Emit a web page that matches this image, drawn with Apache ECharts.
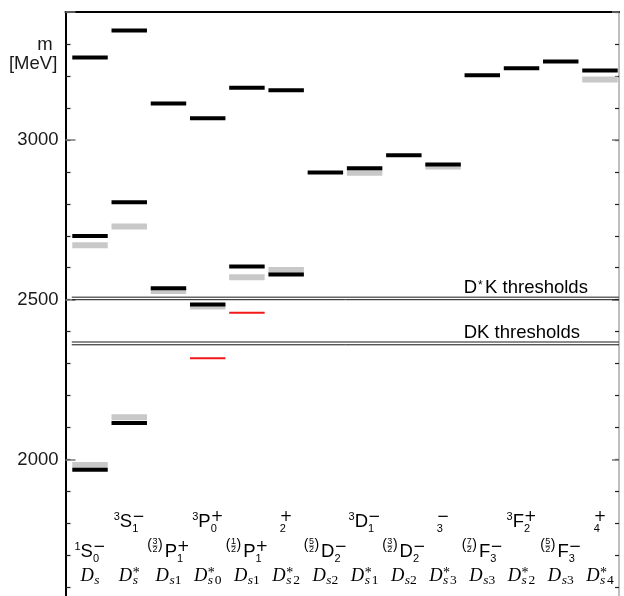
<!DOCTYPE html>
<html>
<head>
<meta charset="utf-8">
<script src="https://cdn.jsdelivr.net/npm/echarts@6/dist/echarts.min.js"></script>
<style>
  html, body { margin: 0; padding: 0; background: #fff; width: 624px; height: 596px; overflow: hidden; }
  #chart { width: 624px; height: 640px; }
</style>
</head>
<body>
<div id="chart"></div>
<script>
// masses in MeV, one list per column
const columns = ['Ds', 'Ds*', 'Ds1', 'Ds0*', 'Ds1', 'Ds2*', 'Ds2', 'Ds1*', 'Ds2', 'Ds3*', 'Ds3', 'Ds2*', 'Ds3', 'Ds4*']
const blackLevels = [[1968, 2699, 3258], [2114, 2805, 3342], [2536, 3114], [2485, 3068], [2604, 3163], [2579, 3155], [2898], [2911], [2952], [2923], [3202], [3224], [3245], [3217]]
const grayLevels = [[1983, 2670], [2132, 2729], [2527], [2479], [2570], [2593], [], [2897], [], [2917], [], [], [], [3189]]
const redLevels = [[], [], [], [2317], [2459], [], [], [], [], [], [], [], [], []]

const thresholdNames = ['D*K thresholds', 'DK thresholds']
const thresholdMasses = [[2508, 2500], [2368, 2359]]

const yLabels = [2000, 2500, 3000]

// spectroscopic labels
const termPrefix = ['1', '3', '3/2', '3', '1/2', '', '5/2', '3', '3/2', '', '7/2', '3', '5/2', '']
const termLetter = ['S', 'S', 'P', 'P', 'P', '', 'D', 'D', 'D', '', 'F', 'F', 'F', '']
const termJ = ['0', '1', '1', '0', '1', '2', '2', '1', '2', '3', '3', '2', '3', '4']
const termParity = ['−', '−', '+', '+', '+', '+', '−', '−', '−', '−', '−', '+', '−', '+']
const stateSub = ['s', 's', 's1', 's0', 's1', 's2', 's2', 's1', 's2', 's3', 's3', 's2', 's3', 's4']
const stateStar = [false, true, false, true, false, true, false, true, false, true, false, true, false, true]

const SANS = '"Liberation Sans", Arial, sans-serif'
const SERIF = '"Liberation Serif", "Times New Roman", serif'
const SIGN = '"DejaVu Sans", sans-serif'

const flat = lv => lv.flatMap((ms, i) => ms.map(m => [i, m]))

// small text layout helper (sub/superscripts)
const ctx = document.createElement('canvas').getContext('2d')
const fontOf = p => (p.it ? 'italic ' : '') + p.s + 'px ' + p.f
function widthOf(p) {
  if (p.stack) return Math.max(...p.stack.map(widthOf))
  if (p.seq) return p.seq.reduce((w, q) => w + widthOf(q), 0)
  if (p.gap != null) return p.gap
  ctx.font = fontOf(p)
  return ctx.measureText(p.t).width
}
function draw(p, x, base, out) {
  const w = widthOf(p)
  if (p.stack) {
    p.stack.forEach(q => draw(q, p.center ? x + (w - widthOf(q)) / 2 : x, base, out))
    if (p.bar != null) {
      out.push({ type: 'line', shape: { x1: x, y1: base + p.bar, x2: x + w, y2: base + p.bar }, style: { stroke: '#000', lineWidth: 0.6 } })
    }
  } else if (p.seq) {
    let xx = x
    p.seq.forEach(q => { draw(q, xx, base, out); xx += widthOf(q) })
  } else if (p.t) {
    const y = base + (p.m != null ? p.m : p.b - 0.345 * p.s)
    out.push({ type: 'text', style: { text: p.t, x: x, y: y, font: fontOf(p), fill: '#000', align: 'left', verticalAlign: 'middle' } })
  }
}
function place(pieces, x, base, centered) {
  const row = { seq: pieces }
  const out = []
  draw(row, centered ? x - widthOf(row) / 2 : x, base, out)
  return out
}

function termPieces(i) {
  const ps = []
  const pre = termPrefix[i]
  if (pre.includes('/')) {
    const [n, d] = pre.split('/')
    ps.push({ t: '(', s: 14, f: SANS, b: -8.5 })
    ps.push({ gap: 0.5 })
    ps.push({ stack: [{ t: n, s: 9, f: SANS, b: -13.2 }, { t: d, s: 9, f: SANS, b: -5.8 }], center: true, bar: -12.4 })
    ps.push({ gap: 0.5 })
    ps.push({ t: ')', s: 14, f: SANS, b: -8.5 })
    ps.push({ gap: 2 })
  } else if (pre) {
    ps.push({ t: pre, s: 11, f: SANS, b: -7.5 })
  }
  if (termLetter[i]) ps.push({ t: termLetter[i], s: 18.5, f: SANS, b: 0 })
  ps.push({ stack: [{ t: termParity[i], s: 15, f: SIGN, m: -11.5 }, { t: termJ[i], s: 11, f: SANS, b: 4.5 }] })
  return ps
}

function statePieces(i) {
  const s = { t: 's', s: 13.5, f: SERIF, it: true, b: 2.5 }
  const ps = [{ t: 'D', s: 18.5, f: SERIF, it: true, b: 0 }, { gap: 0.5 }]
  ps.push(stateStar[i] ? { stack: [{ t: '*', s: 14, f: SERIF, m: -9 }, s] } : s)
  const digit = stateSub[i].slice(1)
  if (digit) ps.push({ t: digit, s: 13.5, f: SERIF, b: 2.5 })
  return ps
}

function thresholdPieces(name) {
  const parts = name.split('*')
  const ps = [{ t: parts[0], s: 18.5, f: SANS, b: 0 }]
  if (parts.length > 1) {
    ps.push({ gap: 0.8 }, { t: '*', s: 12, f: SANS, m: -9 }, { gap: 2.5 }, { t: parts[1], s: 18.5, f: SANS, b: 0 })
  }
  return ps
}

function levelItem(h, color) {
  return (params, api) => {
    const a = api.coord([api.value(0) - 0.452, api.value(1)])
    const b = api.coord([api.value(0) + 0.452, api.value(1)])
    return { type: 'rect', shape: { x: a[0], y: a[1] - h / 2, width: b[0] - a[0], height: h }, style: { fill: color } }
  }
}

const chart = echarts.init(document.getElementById('chart'))

const yBase = { type: 'value', min: 1500, max: 3400, splitLine: { show: false } }
const thresholdData = thresholdMasses.flatMap((pair, k) => pair.map((m, j) => [k, m, j]))

chart.setOption({
  animation: false,
  grid: { left: 65.5, top: 12, width: 553.5, height: 607.4 },
  xAxis: {
    type: 'value', min: -0.625, max: 13.485, position: 'top',
    axisLine: { show: true, onZero: false, lineStyle: { color: '#000', width: 2 } },
    axisTick: { show: false }, axisLabel: { show: false }, splitLine: { show: false }
  },
  yAxis: [
    {
      ...yBase, position: 'left', interval: 100,
      axisLine: { show: true, onZero: false, lineStyle: { color: '#000', width: 2 } },
      axisTick: { show: true, inside: true, length: 5, lineStyle: { color: '#222', width: 1.2 } },
      axisLabel: { show: false }
    },
    {
      ...yBase, position: 'left', interval: 500,
      axisLine: { show: false, onZero: false },
      axisTick: { show: true, inside: true, length: 10, lineStyle: { color: '#777', width: 1.5 } },
      axisLabel: {
        show: true, margin: 7, fontSize: 18.5, fontFamily: SANS, color: '#1a1a1a',
        formatter: v => yLabels.includes(v) ? String(v) : ''
      }
    },
    {
      ...yBase, position: 'right', interval: 100,
      axisLine: { show: true, onZero: false, lineStyle: { color: '#aaa', width: 1.5 } },
      axisTick: { show: true, inside: true, length: 4, lineStyle: { color: '#222', width: 1.2 } },
      axisLabel: { show: false }
    },
    {
      ...yBase, position: 'right', interval: 500,
      axisLine: { show: false, onZero: false },
      axisTick: { show: true, inside: true, length: 7, lineStyle: { color: '#777', width: 1.5 } },
      axisLabel: { show: false }
    }
  ],
  graphic: [
    { type: 'text', x: 52.7, y: 45.3, style: { text: 'm', font: '18.5px ' + SANS, fill: '#1a1a1a', align: 'right', verticalAlign: 'middle' } },
    { type: 'text', x: 57.3, y: 64.3, style: { text: '[MeV]', font: '18.5px ' + SANS, fill: '#1a1a1a', align: 'right', verticalAlign: 'middle' } }
  ],
  series: [
    {
      type: 'custom', name: 'thresholds', data: thresholdData,
      renderItem: (params, api) => {
        const k = api.value(0), j = api.value(2), m = api.value(1)
        const a = api.coord([-0.465, m])
        const b = api.coord([13.485, m])
        const children = [{
          type: 'line', shape: { x1: a[0], y1: a[1], x2: b[0], y2: b[1] },
          style: { stroke: j === 0 ? '#666' : '#111', lineWidth: j === 0 ? 1.5 : 1 }
        }]
        if (j === 0) children.push(...place(thresholdPieces(thresholdNames[k]), api.coord([9.527, m])[0], a[1] - 2.5, false))
        return { type: 'group', children }
      }
    },
    { type: 'custom', name: 'gray', data: flat(grayLevels), renderItem: levelItem(6, '#c8c8c8') },
    { type: 'custom', name: 'black', data: flat(blackLevels), renderItem: levelItem(4, '#000') },
    { type: 'custom', name: 'red', data: flat(redLevels), renderItem: levelItem(2, '#f01818') },
    {
      type: 'custom', name: 'labels', data: columns.map((c, i) => [i, 1600]),
      renderItem: (params, api) => {
        const i = params.dataIndex
        const cx = api.coord([i, 1600])[0]
        const termBase = i % 2 === 0 ? 558.3 : 528.3
        return { type: 'group', children: place(termPieces(i), cx, termBase, true).concat(place(statePieces(i), cx, 582.5, true)) }
      }
    }
  ]
})
</script>
</body>
</html>
